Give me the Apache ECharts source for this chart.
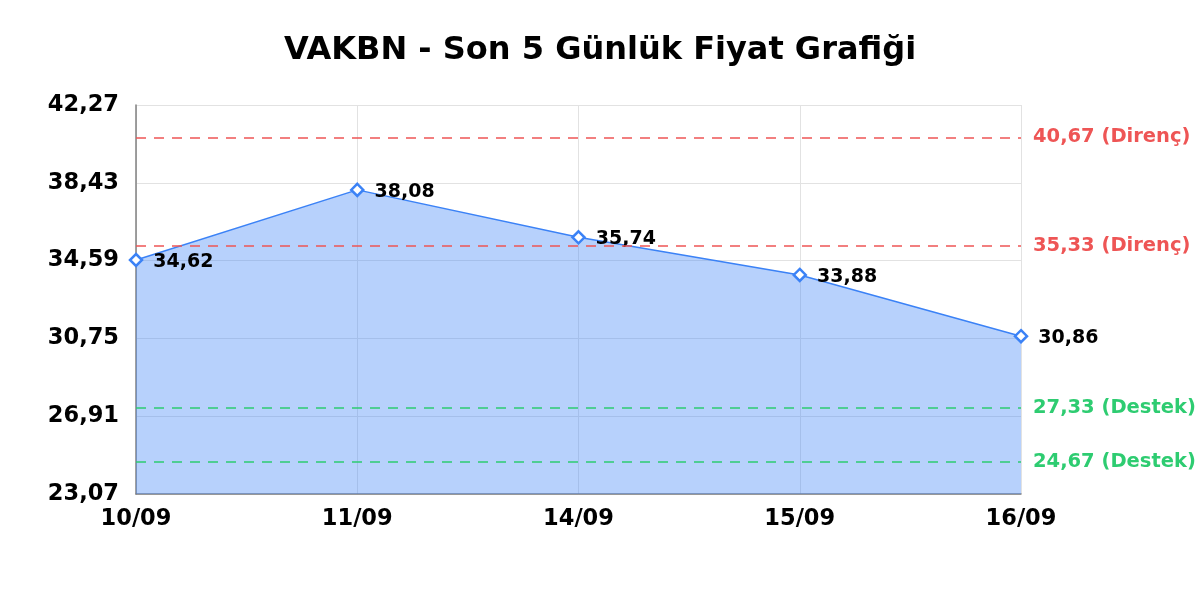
<!DOCTYPE html>
<html>
<head>
<meta charset="utf-8">
<script src="https://cdn.jsdelivr.net/npm/echarts@6/dist/echarts.min.js"></script>
<style>
	html, body { margin: 0; padding: 0; background: #fff; }
	#main { width: 1200px; height: 600px; }
</style>
</head>
<body>
<div id="main"></div>
<script>
// veriler
var days = ['10/09', '11/09', '14/09', '15/09', '16/09'];
var prices = [34.62, 38.08, 35.74, 33.88, 30.86];
var yTicks = [23.07, 26.91, 30.75, 34.59, 38.43, 42.27];
var resistance = [40.67, 35.33];
var support = [27.33, 24.67];

function fmt(v) {
	return Number(v).toFixed(2).replace('.', ',');
}

var levelLines = [];
for (var i = 0; i < resistance.length; i++) {
	levelLines.push({
		yAxis: resistance[i],
		lineStyle: { color: '#ee5555' },
		label: { color: '#ee5555', formatter: fmt(resistance[i]) + ' (Direnç)' }
	});
}
for (var j = 0; j < support.length; j++) {
	levelLines.push({
		yAxis: support[j],
		lineStyle: { color: '#2ecc71' },
		label: { color: '#2ecc71', formatter: fmt(support[j]) + ' (Destek)' }
	});
}

var myChart = echarts.init(document.getElementById('main'));

var option = {
	animation: false,
	textStyle: { fontFamily: 'DejaVu Sans' },
	title: {
		text: 'VAKBN - Son 5 Günlük Fiyat Grafiği',
		left: 'center',
		top: 30,
		textStyle: { fontSize: 32, fontWeight: 'bold', color: '#000', fontFamily: 'DejaVu Sans' }
	},
	grid: { left: 136, right: 179, top: 105, bottom: 106 },
	xAxis: {
		type: 'category',
		data: days,
		boundaryGap: false,
		axisLine: { lineStyle: { color: '#808080', width: 1.5 } },
		axisTick: { show: false },
		axisLabel: { color: '#000', fontSize: 22.5, fontWeight: 'bold', margin: 14 },
		splitLine: { show: true, lineStyle: { color: '#e2e2e2' } }
	},
	yAxis: {
		type: 'value',
		min: yTicks[0],
		max: yTicks[yTicks.length - 1],
		axisLine: { show: true, lineStyle: { color: '#808080', width: 1.5 } },
		axisTick: { show: false, customValues: yTicks },
		axisLabel: {
			customValues: yTicks,
			color: '#000',
			fontSize: 22.5,
			fontWeight: 'bold',
			margin: 17,
			formatter: function (v) { return fmt(v); }
		},
		splitLine: { show: true, lineStyle: { color: '#e2e2e2' } }
	},
	series: [{
		type: 'line',
		data: prices,
		symbol: 'diamond',
		symbolSize: 12,
		showAllSymbol: true,
		lineStyle: { color: '#3b82f6', width: 1.5 },
		itemStyle: { color: '#fff', borderColor: '#3b82f6', borderWidth: 2.5 },
		areaStyle: { color: 'rgba(59,130,246,0.37)', opacity: 1, origin: 'start' },
		label: {
			show: true,
			position: 'right',
			distance: 10,
			offset: [0, 2],
			color: '#000',
			fontSize: 19,
			fontWeight: 'bold',
			formatter: function (p) { return fmt(p.value); }
		},
		markLine: {
			silent: true,
			symbol: 'none',
			lineStyle: { type: [10, 8], width: 1.5 },
			label: { position: 'end', distance: 12, fontSize: 19.5, fontWeight: 'bold' },
			data: levelLines
		},
		z: 3
	}]
};
myChart.setOption(option);
</script>
</body>
</html>
